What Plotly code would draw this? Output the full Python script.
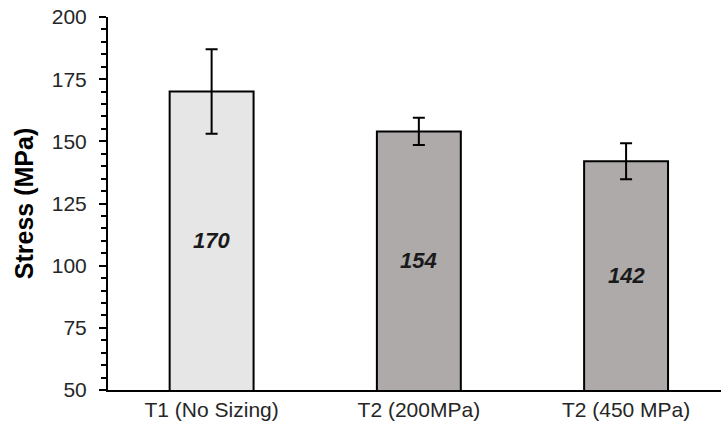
import plotly.graph_objects as go

categories = ["T1 (No Sizing)", "T2 (200MPa)", "T2 (450 MPa)"]
stress = [170, 154, 142]
errors = [17, 5.5, 7.2]
bar_colors = ["#e6e6e6", "#aeaaaa", "#aeaaaa"]
y_min, y_max = 50, 200

fig = go.Figure()
fig.add_trace(go.Bar(
    x=[0, 1, 2],
    y=stress,
    width=0.405,
    marker=dict(color=bar_colors, line=dict(color="#000000", width=2)),
    error_y=dict(type="data", array=errors, visible=True, color="#000000",
                 thickness=2, width=6),
    showlegend=False,
))

# value labels in the middle of the visible part of each bar
for i, v in enumerate(stress):
    fig.add_annotation(
        x=i, y=(v + y_min) / 2, text=f"<b><i>{v}</i></b>", showarrow=False,
        font=dict(family="Liberation Sans, Arial", size=22, color="#1a1a1a"),
        xanchor="center", yanchor="middle",
    )

fig.update_layout(
    width=721, height=436,
    margin=dict(l=108, r=0, t=17, b=46),
    paper_bgcolor="white", plot_bgcolor="white",
    font=dict(family="Liberation Sans, Arial", size=21, color="#262626"),
    xaxis=dict(
        range=[-0.5, 2.458],
        tickmode="array", tickvals=[0, 1, 2], ticktext=categories,
        showline=True, linecolor="#000000", linewidth=2,
        ticks="", showgrid=False, zeroline=False,
        tickfont=dict(size=21, color="#262626"),
    ),
    yaxis=dict(
        range=[y_min, y_max], dtick=25, tick0=50,
        showline=True, linecolor="#000000", linewidth=2,
        ticks="outside", ticklen=7, tickwidth=2, tickcolor="#000000",
        ticklabelstandoff=8,
        minor=dict(dtick=5, ticks="outside", ticklen=5, tickwidth=2, tickcolor="#000000", showgrid=False),
        showgrid=False, zeroline=False,
        tickfont=dict(size=21, color="#262626"),
        title=dict(text="<b>Stress (MPa)</b>", font=dict(size=25, color="#000000"), standoff=11),
    ),
)

fig.write_html("out.html")
